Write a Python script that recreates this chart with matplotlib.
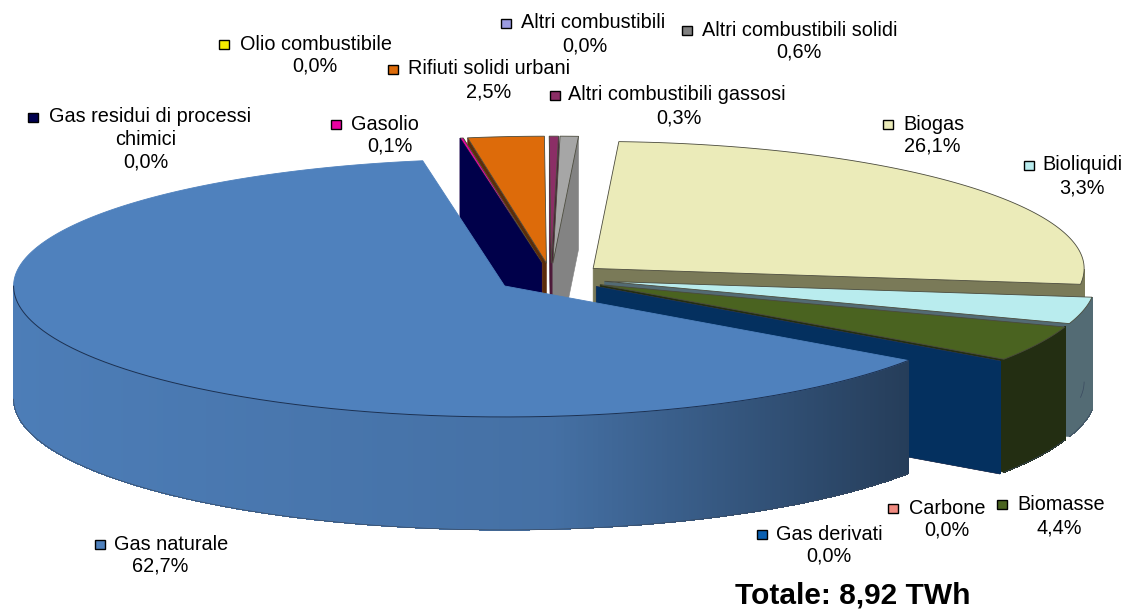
import numpy as np
import matplotlib
matplotlib.use("Agg")
import matplotlib.pyplot as plt
from matplotlib.patches import Polygon, Rectangle
from matplotlib.colors import to_rgb

plt.rcParams['font.family'] = ['Liberation Sans', 'DejaVu Sans']

# ---- data (clockwise from Biogas) ----
categories = ["Biogas", "Bioliquidi", "Biomasse", "Carbone", "Gas derivati", "Gas naturale",
              "Gas residui di processi\nchimici", "Gasolio", "Olio combustibile",
              "Rifiuti solidi urbani", "Altri combustibili gassosi", "Altri combustibili",
              "Altri combustibili solidi"]
values = [26.1, 3.3, 4.4, 0.0, 0.0, 62.7, 0.0, 0.1, 0.0, 2.5, 0.3, 0.0, 0.6]
value_labels = ["26,1%", "3,3%", "4,4%", "0,0%", "0,0%", "62,7%", "0,0%", "0,1%", "0,0%",
                "2,5%", "0,3%", "0,0%", "0,6%"]
top_colors = ["#ebebb9", "#b9ecee", "#4a6320", "#f08a80", "#004a8f", "#4f81bd", "#00004f",
              "#e800a0", "#f5ea00", "#dd6b0a", "#8b2e66", "#9a9ae0", "#a6a6a6"]
side_colors = ["#7a7a58", "#536b74", "#232e12", "#7a403a", "#04305f", "#4f81bd", "#00004a",
               "#70004d", "#787200", "#5c2c0a", "#4c1838", "#50507a", "#838383"]
key_colors = ["#ebebb9", "#b9ecee", "#4a6320", "#f08a80", "#0a5fb0", "#4f81bd", "#00004f",
              "#e800a0", "#f5ea00", "#dd6b0a", "#8b2e66", "#9a9ae0", "#808080"]
total_text = "Totale: 8,92 TWh"

# ---- layout (pixels) ----
W, H = 1122, 610
START = 87.0
CX, CY = 551, 278
EXPLODE, K_EXP = 55, 0.27
RX, RY_BACK, RY_FRONT, DEPTH = 491, 127, 131, 113
name_lefts = [903, 1042, 1017, 909, 776, 114, 49, 351, 240, 408, 568, 521, 702]
name_ys = [124, 165, 505, 508, 534, 544, 117, 124, 44, 69, 95, 23, 30]
value_xs = [932, 1082, 1059, 947, 829, 160, 146, 390, 315, 489, 679, 585, 799]
key_centers = [(888, 124), (1029, 165), (1002, 504), (893, 508), (762, 534), (100, 544),
               (33, 117), (336, 124), (224, 44), (393, 69), (555, 95), (506, 23), (687, 30)]
draw_order = [11, 10, 12, 9, 8, 7, 6, 0, 1, 2, 3, 4, 5]
LINE = 22.5

fig = plt.figure(figsize=(W / 100, H / 100), dpi=100)
ax = fig.add_axes([0, 0, 1, 1])
ax.set_xlim(0, W)
ax.set_ylim(H, 0)
ax.axis("off")

def pt(apex, theta):
    t = np.radians(theta)
    s = np.sin(t)
    ry = np.where(s > 0, RY_BACK, RY_FRONT)
    return apex[0] + RX * np.cos(t), apex[1] - ry * s

def mix(c, f):
    return tuple(v * f for v in to_rgb(c))

bounds = START - np.concatenate([[0], np.cumsum(values)]) * 3.6

for i in draw_order:
    hi, lo = bounds[i], bounds[i + 1]
    mid = np.radians((hi + lo) / 2)
    apex = (CX + EXPLODE * np.cos(mid), CY - EXPLODE * K_EXP * np.sin(mid))
    is_main = values[i] == max(values)
    # cut faces
    for ang, visible in ((hi, np.cos(np.radians(hi)) < 0), (lo, np.cos(np.radians(lo)) > 0)):
        if visible:
            x, y = pt(apex, ang)
            ax.add_patch(Polygon([apex, (x, y), (x, y + DEPTH), (apex[0], apex[1] + DEPTH)],
                                 closed=True, fc=side_colors[i], ec=side_colors[i], lw=0.4))
    # rim, front part only
    th = np.linspace(hi, lo, max(2, int(abs(hi - lo) * 3)))
    th = th[np.sin(np.radians(th)) <= 0.0]
    if len(th) > 1:
        xs, ys = pt(apex, th)
        for j in range(len(th) - 1):
            if is_main:
                u = (xs[j] - 12) / 900
                f = 0.97 - 0.10 * min(1, u / 0.6) - 0.40 * max(0, u - 0.6) / 0.4
            else:
                f = 1
            col = mix(side_colors[i], f)
            ax.add_patch(Polygon([(xs[j], ys[j]), (xs[j + 1], ys[j + 1]),
                                  (xs[j + 1], ys[j + 1] + DEPTH), (xs[j], ys[j] + DEPTH)],
                                 closed=True, fc=col, ec=col, lw=0.3, antialiased=False))
        ax.plot(xs, ys + DEPTH, color="#3a4a60", lw=0.5)
    # top face
    if hi > lo:
        th = np.linspace(hi, lo, max(2, int((hi - lo) * 3)))
        xs, ys = pt(apex, th)
        ax.add_patch(Polygon(np.vstack([[apex], np.column_stack([xs, ys])]), closed=True,
                             fc=top_colors[i],
                             ec=top_colors[i] if is_main else "#4a4a3c", lw=0.6))
        if is_main:
            front = np.sin(np.radians(th)) <= 0
            ax.plot(xs[front], ys[front], color="#1c3050", lw=0.7)

for name, val, nx, ny, vx, (kx, ky), kc in zip(categories, value_labels, name_lefts, name_ys,
                                                value_xs, key_centers, key_colors):
    lines = name.split("\n")
    ax.text(nx, ny, lines[0], ha="left", va="center", fontsize=14.3, color="black")
    for n, extra in enumerate(lines[1:] + [val], start=1):
        ax.text(vx, ny + n * LINE, extra, ha="center", va="center", fontsize=14.3, color="black")
    ax.add_patch(Rectangle((kx - 5, ky - 4.5), 10, 9, fc=kc, ec="black", lw=1.0, zorder=5))

ax.text(853, 596, total_text, ha="center", va="center", fontsize=21.5, fontweight="bold", color="black")

fig.savefig("out.png", dpi=100)
